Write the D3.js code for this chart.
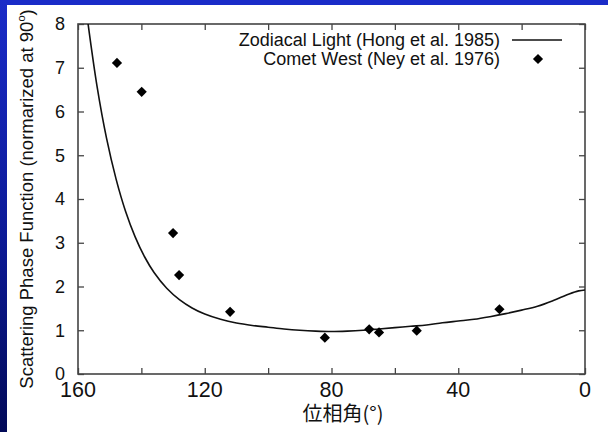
<!DOCTYPE html>
<html>
<head>
<meta charset="utf-8">
<script src="https://cdn.jsdelivr.net/npm/d3@7"></script>
<style>
  html, body { margin: 0; padding: 0; background: #fff; }
  svg { display: block; }
</style>
</head>
<body>
<svg id="chart" width="608" height="432"></svg>
<script>
// Zodiacal light phase function (Hong et al. 1985): phase angle (deg) and value
const zodiacalAngle = [157, 154, 151, 148, 145, 142, 139, 136, 132, 128, 124, 120, 115, 110, 105, 100, 95, 90, 85, 80, 75, 70, 65, 60, 55, 50, 45, 40, 35, 30, 25, 20, 15, 10, 5, 2, 0];
const zodiacalValue = [8.10, 6.58, 5.39, 4.46, 3.72, 3.14, 2.68, 2.32, 1.96, 1.70, 1.51, 1.37, 1.25, 1.165, 1.11, 1.07, 1.03, 1.00, 0.98, 0.97, 0.98, 1.00, 1.03, 1.06, 1.09, 1.12, 1.17, 1.21, 1.25, 1.31, 1.38, 1.46, 1.55, 1.68, 1.83, 1.90, 1.92];

// Comet West measurements (Ney et al. 1976)
const cometAngle = [147.7, 139.9, 130.0, 128.1, 112.0, 82.1, 68.1, 65.0, 53.1, 27.0];
const cometValue = [7.11, 6.45, 3.22, 2.26, 1.42, 0.83, 1.02, 0.95, 0.99, 1.48];

const xTicks = [160, 140, 120, 100, 80, 60, 40, 20, 0];
const xTickLabels = [160, 120, 80, 40, 0];
const yTicks = [0, 1, 2, 3, 4, 5, 6, 7, 8];

const legendLabels = ["Zodiacal Light (Hong et al. 1985)", "Comet West (Ney et al. 1976)"];
const xTitle = "位相角(°)";

const svg = d3.select("#chart");
const W = 608, H = 432;
const m = { left: 78, right: 585, top: 24, bottom: 374 };

// slide-style backdrop: blue bar on top and a shaded strip on the left
const defs = svg.append("defs");
const grad = defs.append("linearGradient").attr("id", "strip")
  .attr("x1", 0).attr("y1", 0).attr("x2", 0).attr("y2", 1);
grad.append("stop").attr("offset", "0%").attr("stop-color", "#1a2cc8");
grad.append("stop").attr("offset", "55%").attr("stop-color", "#0c1a96");
grad.append("stop").attr("offset", "100%").attr("stop-color", "#020a58");
svg.append("rect").attr("x", 0).attr("y", 0).attr("width", W).attr("height", H).attr("fill", "#fff");
svg.append("rect").attr("x", 0).attr("y", 0).attr("width", W).attr("height", 5).attr("fill", "#1a2cc8");
svg.append("rect").attr("x", 0).attr("y", 0).attr("width", 7).attr("height", H).attr("fill", "url(#strip)");

defs.append("clipPath").attr("id", "plotClip").append("rect")
  .attr("x", m.left).attr("y", m.top).attr("width", m.right - m.left).attr("height", m.bottom - m.top);

const x = d3.scaleLinear().domain([160, 0]).range([m.left, m.right]);
const y = d3.scaleLinear().domain([0, 8]).range([m.bottom, m.top]);

const frameColor = "#444";
const tickLen = 6;

// axes: ticks point inward, mirrored on the opposite side
const gx = svg.append("g").attr("transform", `translate(0,${m.bottom})`)
  .call(d3.axisBottom(x).tickValues(xTicks).tickSizeInner(-tickLen).tickSizeOuter(0).tickFormat(""));
const gxt = svg.append("g").attr("transform", `translate(0,${m.top})`)
  .call(d3.axisTop(x).tickValues(xTicks).tickSizeInner(-tickLen).tickSizeOuter(0).tickFormat(""));
const gy = svg.append("g").attr("transform", `translate(${m.left},0)`)
  .call(d3.axisLeft(y).tickValues(yTicks).tickSizeInner(-tickLen).tickSizeOuter(0).tickFormat(""));
const gyr = svg.append("g").attr("transform", `translate(${m.right},0)`)
  .call(d3.axisRight(y).tickValues(yTicks).tickSizeInner(-tickLen).tickSizeOuter(0).tickFormat(""));
[gx, gxt, gy, gyr].forEach(g => {
  g.select(".domain").remove();
  g.selectAll(".tick line").attr("stroke", frameColor).attr("stroke-width", 1.3);
});

svg.append("rect").attr("x", m.left).attr("y", m.top)
  .attr("width", m.right - m.left).attr("height", m.bottom - m.top)
  .attr("fill", "none").attr("stroke", frameColor).attr("stroke-width", 1.6);

const font = "'Liberation Sans', Arial, Helvetica, sans-serif";

// tick labels
svg.append("g").selectAll("text").data(yTicks).join("text")
  .attr("x", 65).attr("y", d => y(d)).attr("dy", "0.36em")
  .attr("text-anchor", "end").attr("font-family", font).attr("font-size", 18)
  .attr("fill", "#111").text(d => d);

svg.append("g").selectAll("text").data(xTickLabels).join("text")
  .attr("x", d => x(d)).attr("y", 397)
  .attr("text-anchor", "middle").attr("font-family", font).attr("font-size", 21.5)
  .attr("fill", "#111").text(d => d);

// axis titles
const yt = svg.append("text")
  .attr("transform", `translate(33,199) rotate(-90)`)
  .attr("text-anchor", "middle").attr("font-family", font).attr("font-size", 18.5)
  .attr("fill", "#111");
yt.append("tspan").text("Scattering Phase Function (normarized at 90");
yt.append("tspan").attr("font-size", 11).attr("dy", -8).text("o");
yt.append("tspan").attr("dy", 8).text(")");

svg.append("text").attr("x", 343).attr("y", 421)
  .attr("text-anchor", "middle")
  .attr("font-family", "'Noto Sans CJK JP', 'Liberation Sans', sans-serif")
  .attr("font-size", 20).attr("fill", "#111").text(xTitle);

// zodiacal light curve
const curveData = zodiacalAngle.map((a, i) => [a, zodiacalValue[i]]);
svg.append("path").datum(curveData)
  .attr("clip-path", "url(#plotClip)")
  .attr("fill", "none").attr("stroke", "#111").attr("stroke-width", 1.6)
  .attr("d", d3.line().x(d => x(d[0])).y(d => y(d[1])).curve(d3.curveCatmullRom.alpha(0.5)));

// comet points
const diamond = d3.symbol(d3.symbolSquare, 52)();
svg.append("g").selectAll("path").data(cometAngle.map((a, i) => [a, cometValue[i]])).join("path")
  .attr("d", diamond)
  .attr("transform", d => `translate(${x(d[0])},${y(d[1])}) rotate(45)`)
  .attr("fill", "#000");

// legend
const lg = svg.append("g").attr("font-family", font).attr("font-size", 18).attr("fill", "#111");
lg.append("text").attr("x", 500).attr("y", 46).attr("text-anchor", "end").text(legendLabels[0]);
lg.append("text").attr("x", 500).attr("y", 65).attr("text-anchor", "end").text(legendLabels[1]);
lg.append("line").attr("x1", 512).attr("x2", 562).attr("y1", 40).attr("y2", 40)
  .attr("stroke", "#111").attr("stroke-width", 1.6);
lg.append("path").attr("d", diamond).attr("transform", "translate(538,59) rotate(45)").attr("fill", "#000");
</script>
</body>
</html>
